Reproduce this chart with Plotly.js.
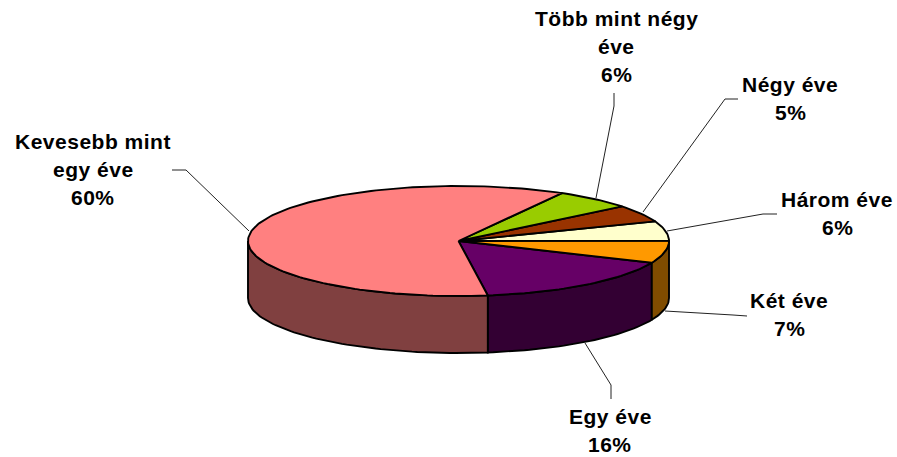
<!DOCTYPE html>
<html>
<head>
<meta charset="utf-8">
<script src="https://cdn.plot.ly/plotly-3.0.1.min.js"></script>
<style>
html,body{margin:0;padding:0;background:#fff;overflow:hidden}
#chart{width:897px;height:457px}
.annotation-text{letter-spacing:0.5px}
</style>
</head>
<body>
<div id="chart"></div>
<script>
// Data, in drawing order clockwise-from-front
var categories = ["Egy éve", "Két éve", "Három éve", "Négy éve", "Több mint négy éve", "Kevesebb mint egy éve"];
var values = [16.3, 6.6, 5.7, 5.0, 6.0, 60.4];
var labelLines = [["Egy éve"], ["Két éve"], ["Három éve"], ["Négy éve"], ["Több mint négy", "éve"], ["Kevesebb mint", "egy éve"]];

// Styling
var topColors = ["#660066", "#FF9900", "#FFFFCC", "#993300", "#99CC00", "#FF8080"];
var sideColors = ["#330033", "#804C00", "#808066", "#4C1900", "#4C6600", "#804040"];

// Layout geometry
var cx = 458.5, cy = 241, rx = 210.5, ry = 55, depth = 57, startDeg = 8;
var labelPos = [[610, 416], [789, 300], [837, 199], [790, 84], [616, 18], [93, 141]];
var lineStep = 28;
var leaders = [
  [[611, 399], [611, 385], [585, 343]],
  [[747, 316], [733, 315], [665, 311]],
  [[777, 214], [763, 214], [667, 231]],
  [[738, 99], [725, 99], [643, 212]],
  [[614, 93], [614, 106], [596, 198]],
  [[172, 170], [186, 170], [249, 231]]
];

function px(a) { return cx + rx * Math.sin(a * Math.PI / 180); }
function py(a) { return cy + ry * Math.cos(a * Math.PI / 180); }

var total = values.reduce(function (s, v) { return s + v; }, 0);
var spans = [], acc = startDeg;
values.forEach(function (v) {
  var next = acc + v / total * 360;
  spans.push([acc, next]);
  acc = next;
});

function arc(a0, a1) {
  var out = [], n = Math.max(2, Math.ceil(Math.abs(a1 - a0) / 1.5));
  for (var i = 0; i <= n; i++) out.push(a0 + (a1 - a0) * i / n);
  return out;
}

var traces = [];
function poly(xs, ys, fill) {
  traces.push({
    type: "scatter", mode: "lines", x: xs, y: ys, fill: "toself", fillcolor: fill,
    line: { color: "#000", width: 1.9 }, hoverinfo: "skip", showlegend: false
  });
}

// Walls: only the front half (-90..90 degrees from the front) is visible
spans.forEach(function (s, i) {
  var ranges = [[s[0], Math.min(s[1], 90)], [Math.max(s[0], 270), s[1]]];
  ranges.forEach(function (r) {
    if (r[1] <= r[0]) return;
    var as = arc(r[0], r[1]);
    var xs = as.map(px), ys = as.map(py);
    var bx = as.slice().reverse().map(px);
    var by = as.slice().reverse().map(function (a) { return py(a) + depth; });
    poly(xs.concat(bx, [xs[0]]), ys.concat(by, [ys[0]]), sideColors[i]);
  });
});

// Top faces
spans.forEach(function (s, i) {
  var as = arc(s[0], s[1]);
  poly([cx].concat(as.map(px), [cx]), [cy].concat(as.map(py), [cy]), topColors[i]);
});

// Leader lines
leaders.forEach(function (l) {
  traces.push({
    type: "scatter", mode: "lines",
    x: l.map(function (p) { return p[0]; }),
    y: l.map(function (p) { return p[1]; }),
    line: { color: "#222", width: 1 }, hoverinfo: "skip", showlegend: false
  });
});

// Labels, one annotation per line of text to reproduce the tall line spacing
var annotations = [];
categories.forEach(function (c, i) {
  var lines = labelLines[i].concat([Math.round(values[i]) + "%"]);
  lines.forEach(function (t, j) {
    annotations.push({
      x: labelPos[i][0], y: labelPos[i][1] + j * lineStep, xref: "x", yref: "y",
      text: "<b>" + t + "</b>", showarrow: false, xanchor: "center", yanchor: "middle",
      font: { family: "Liberation Sans, Arial, sans-serif", size: 21, color: "#000" }
    });
  });
});

Plotly.newPlot("chart", traces, {
  width: 897, height: 457,
  margin: { l: 0, r: 0, t: 0, b: 0 },
  paper_bgcolor: "#fff", plot_bgcolor: "#fff",
  showlegend: false, hovermode: false,
  xaxis: { range: [0, 897], visible: false, fixedrange: true },
  yaxis: { range: [457, 0], visible: false, fixedrange: true },
  annotations: annotations
}, { displayModeBar: false, staticPlot: true });
</script>
</body>
</html>
